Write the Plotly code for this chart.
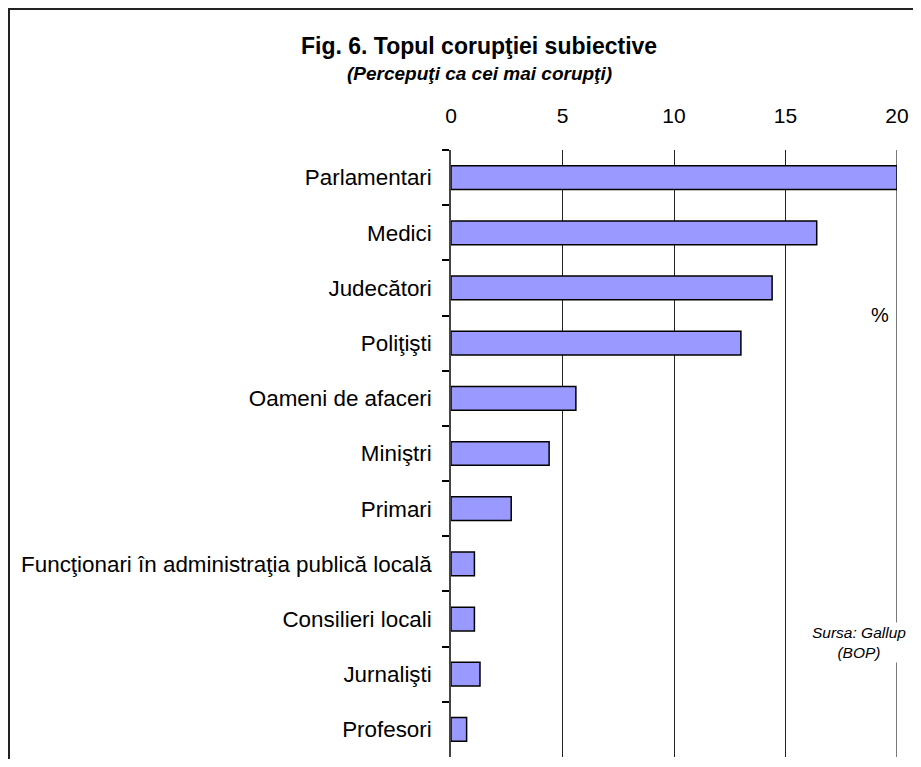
import plotly.graph_objects as go

categories = ["Parlamentari", "Medici", "Judecători", "Poliţişti", "Oameni de afaceri",
              "Miniştri", "Primari", "Funcţionari în administraţia publică locală",
              "Consilieri locali", "Jurnalişti", "Profesori"]
values = [20.0, 16.4, 14.4, 13.0, 5.6, 4.4, 2.7, 1.05, 1.05, 1.3, 0.7]
x_ticks = [0, 5, 10, 15, 20]

FONT = "Arial, Liberation Sans, sans-serif"

# figure sits at page offset (8, 8)
W, H = 905, 751
PL, PR, PT, PB = 443, 889, 142, 749  # plot area in figure px
PW, PH = PR - PL, PB - PT


def px(xf):
    return (xf - PL) / PW


def py(yf):
    return (PB - yf) / PH


fig = go.Figure(go.Bar(
    y=categories, x=values, orientation="h",
    marker=dict(color="#9999FF", line=dict(color="#000000", width=1.5)),
    width=0.43,
))

fig.update_layout(
    width=W, height=H,
    margin=dict(l=PL, r=W - PR, t=PT, b=H - PB),
    paper_bgcolor="white", plot_bgcolor="white",
    showlegend=False,
    font=dict(family=FONT, size=20, color="#000"),
    xaxis=dict(side="top", range=[x_ticks[0], x_ticks[-1]], tickvals=x_ticks, showgrid=True,
               gridcolor="#222", gridwidth=1.2, zeroline=False, showline=False,
               ticks="", ticklabelstandoff=22, tickfont=dict(size=21)),
    yaxis=dict(autorange="reversed", type="category", showline=True, linecolor="#444",
               linewidth=1.5, ticks="outside", tickson="boundaries", ticklen=7,
               tickcolor="#000", tickwidth=1.5, showgrid=False, zeroline=False,
               ticklabelstandoff=13, tickfont=dict(size=22.4)),
    shapes=[
        dict(type="line", xref="x", yref="paper", x0=x_ticks[-1], x1=x_ticks[-1], y0=0, y1=1,
             line=dict(color="#222", width=1.2), layer="below"),
        dict(type="rect", xref="paper", yref="paper",
             x0=px(1), x1=px(W + 40), y0=py(H + 40), y1=py(1),
             line=dict(color="#222", width=2), fillcolor="rgba(0,0,0,0)", layer="above"),
    ],
    annotations=[
        dict(text="<b>Fig. 6. Topul corupţiei subiective</b>", xref="paper", yref="paper",
             x=px(471), y=py(38), xanchor="center", yanchor="middle",
             showarrow=False, font=dict(size=23, family=FONT)),
        dict(text="<b><i>(Percepuţi ca cei mai corupţi)</i></b>", xref="paper", yref="paper",
             x=px(471), y=py(66), xanchor="center", yanchor="middle",
             showarrow=False, font=dict(size=19, family=FONT)),
        dict(text="%", xref="paper", yref="paper",
             x=px(872), y=py(307), xanchor="center", yanchor="middle",
             showarrow=False, font=dict(size=20, family=FONT)),
        dict(text="<i>Sursa: Gallup<br>(BOP)</i>", xref="paper", yref="paper",
             x=px(851), y=py(634), xanchor="center", yanchor="middle",
             showarrow=False, bgcolor="white", borderpad=1, font=dict(size=15.5, family=FONT)),
    ],
)

fig.write_html("out.html")
